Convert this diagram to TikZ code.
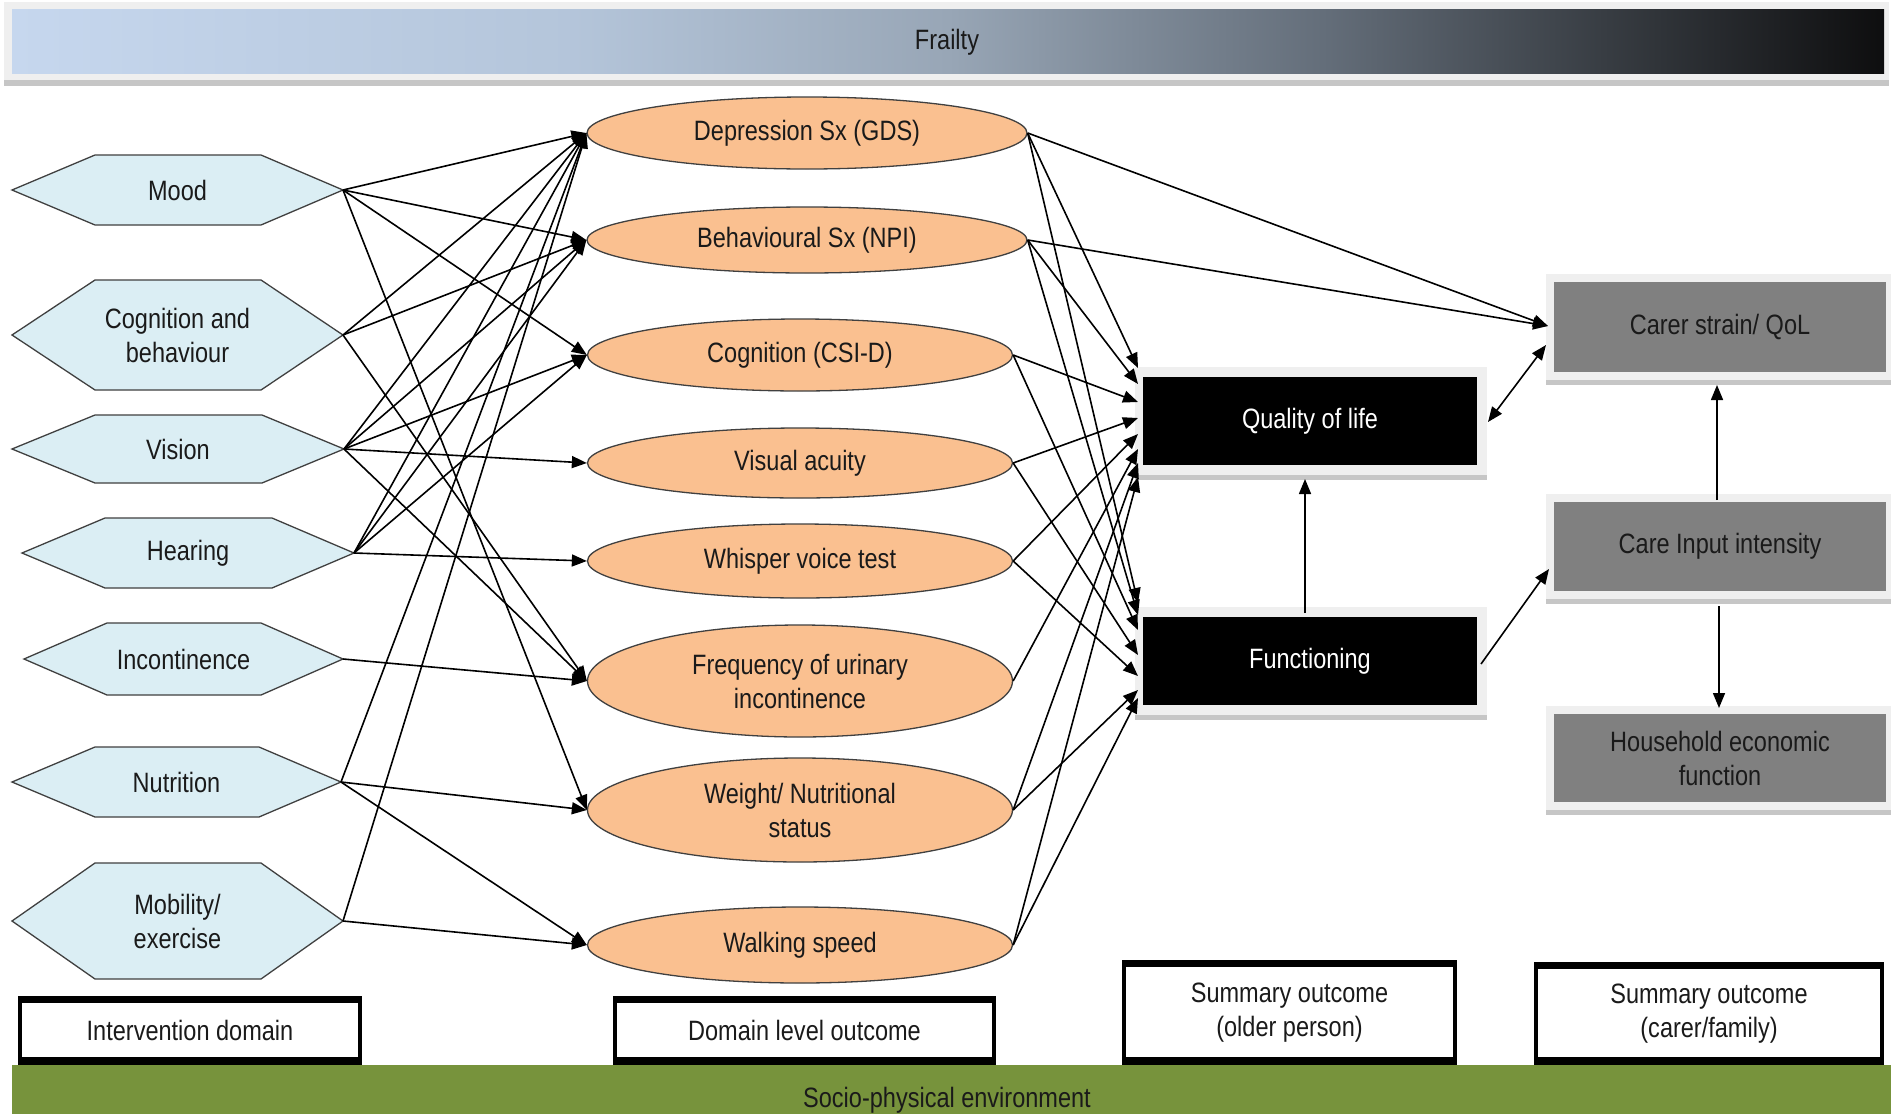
\documentclass[tikz,border=0pt]{standalone}
\usepackage{fontspec}
\setmainfont{Liberation Sans}[FakeStretch=0.84]
\usetikzlibrary{shapes.geometric,arrows.meta,calc}
\definecolor{hexfill}{HTML}{DBEEF4}
\definecolor{ellfill}{HTML}{FAC090}
\definecolor{boxgray}{HTML}{808080}
\definecolor{framelight}{HTML}{EFEFEF}
\definecolor{frameshadow}{HTML}{C6C6C6}
\definecolor{envgreen}{HTML}{77933C}
\definecolor{txt}{HTML}{1A1A1A}
\definecolor{fA}{HTML}{C6D7EE}
\definecolor{fB}{HTML}{B4C5DA}
\definecolor{fC}{HTML}{98A6B6}
\definecolor{fD}{HTML}{646E7A}
\definecolor{fE}{HTML}{383D43}
\definecolor{fF}{HTML}{0E0E0F}
\pgfdeclarehorizontalshading{frailshade}{100bp}{color(0bp)=(fA); color(25bp)=(fA); color(40bp)=(fB); color(50bp)=(fC); color(60bp)=(fD); color(67.5bp)=(fE); color(75bp)=(fF); color(100bp)=(fF)}
\newcommand{\hexnode}[6]{%
  \draw[hexshape] (#2,#4) -- ({#2+83},{#4-#5}) -- ({#3-82},{#4-#5}) -- (#3,#4) -- ({#3-82},{#4+#5}) -- ({#2+83},{#4+#5}) -- cycle;
  \node[lbl] (#1) at ({(#2+#3)/2},#4) {#6};
  \coordinate (#1-tip) at (#3,#4);
}
\newcommand{\legendbox}[6]{% name, x0, y0, x1, y1, text
  \fill[black] (#2,#3) rectangle (#4,#5);
  \fill[white] ({#2+4},{#3+7}) rectangle ({#4-4},{#5-8});
  \node[lbl] (#1) at ({(#2+#4)/2},{(#3+#5)/2}) {#6};
}
\begin{document}
\begin{tikzpicture}[x=1pt,y=-1pt,
  font=\fontsize{28}{34}\selectfont,
  every node/.style={text=txt},
  hexshape/.style={fill=hexfill, draw=black!75, line width=1.3pt},
  lbl/.style={align=center, inner sep=0pt},
  outc/.style={ellipse, fill=ellfill, draw=black!75, line width=1.3pt, inner sep=0pt, align=center},
  blackbox/.style={rectangle, fill=black, text=white, inner sep=0pt, align=center, minimum width=334pt, minimum height=88pt},
  graybox/.style={rectangle, fill=boxgray, text=txt, inner sep=0pt, align=center, minimum width=332pt, minimum height=89pt},
  conn/.style={draw=black, line width=1.6pt, -{Triangle[length=15pt,width=12pt]}},
  dconn/.style={draw=black, line width=1.6pt, {Triangle[length=15pt,width=12pt]}-{Triangle[length=15pt,width=12pt]}}
]
\useasboundingbox (0,0) rectangle (1891,1114);
\fill[white] (0,0) rectangle (1891,1114);

% Frailty bar
\fill[framelight] (4,2) rectangle (1889,80);
\fill[frameshadow] (4,80) rectangle (1889,86);
\shade[shading=frailshade] (12,9) rectangle (1884,73);
\node[lbl] (frailty) at (947,42) {Frailty};

% Intervention domains
\hexnode{mood}{12}{343}{190}{35}{Mood}
\hexnode{cog}{12}{343}{335}{55}{Cognition and\\behaviour}
\hexnode{vis}{12}{344}{449}{34}{Vision}
\hexnode{hear}{22}{354}{553}{35}{Hearing}
\hexnode{inc}{24}{343}{659}{36}{Incontinence}
\hexnode{nut}{12}{341}{782}{35}{Nutrition}
\hexnode{mob}{12}{343}{921}{58}{Mobility/\\exercise}

% Domain level outcomes
\node[outc, minimum width=440pt, minimum height=72pt] (d1) at (807,133) {Depression Sx (GDS)};
\node[outc, minimum width=440pt, minimum height=66pt] (d2) at (807,240) {Behavioural Sx (NPI)};
\node[outc, minimum width=425pt, minimum height=72pt] (d3) at (800,355) {Cognition (CSI-D)};
\node[outc, minimum width=425pt, minimum height=70pt] (d4) at (800,463) {Visual acuity};
\node[outc, minimum width=425pt, minimum height=74pt] (d5) at (800,561) {Whisper voice test};
\node[outc, minimum width=425pt, minimum height=112pt] (d6) at (800,681) {Frequency of urinary\\incontinence};
\node[outc, minimum width=425pt, minimum height=104pt] (d7) at (800,810) {Weight/ Nutritional\\status};
\node[outc, minimum width=425pt, minimum height=76pt] (d8) at (800,945) {Walking speed};

% Summary outcome boxes (older person)
\fill[framelight] (1135,367) rectangle (1487,475);
\fill[frameshadow] (1135,475) rectangle (1487,480);
\node[blackbox] (qol) at (1310,421) {Quality of life};
\fill[framelight] (1135,607) rectangle (1487,715);
\fill[frameshadow] (1135,715) rectangle (1487,720);
\node[blackbox] (func) at (1310,661) {Functioning};

% Summary outcome boxes (carer/family)
\fill[framelight] (1546,274) rectangle (1891,380);
\fill[frameshadow] (1546,380) rectangle (1891,385);
\node[graybox, minimum height=90pt] (carer) at (1720,327) {Carer strain/ QoL};
\fill[framelight] (1546,494) rectangle (1891,599);
\fill[frameshadow] (1546,599) rectangle (1891,604);
\node[graybox] (care) at (1720,546.5) {Care Input intensity};
\fill[framelight] (1546,706) rectangle (1891,810);
\fill[frameshadow] (1546,810) rectangle (1891,815);
\node[graybox, minimum height=88pt] (house) at (1720,758) {Household economic\\function};

% connectors: intervention -> domain outcome
\draw[conn] (mood-tip) -- (d1.west);
\draw[conn] (mood-tip) -- (d2.west);
\draw[conn] (mood-tip) -- (d3.west);
\draw[conn] (mood-tip) -- (d7.west);
\draw[conn] (cog-tip) -- (d1.west);
\draw[conn] (cog-tip) -- (d2.west);
\draw[conn] (cog-tip) -- (d6.west);
\draw[conn] (vis-tip) -- (d1.west);
\draw[conn] (vis-tip) -- (d2.west);
\draw[conn] (vis-tip) -- (d3.west);
\draw[conn] (vis-tip) -- (d4.west);
\draw[conn] (vis-tip) -- (d6.west);
\draw[conn] (hear-tip) -- (d1.west);
\draw[conn] (hear-tip) -- (d2.west);
\draw[conn] (hear-tip) -- (d3.west);
\draw[conn] (hear-tip) -- (d5.west);
\draw[conn] (inc-tip) -- (d6.west);
\draw[conn] (nut-tip) -- (d1.west);
\draw[conn] (nut-tip) -- (d7.west);
\draw[conn] (nut-tip) -- (d8.west);
\draw[conn] (mob-tip) -- (d1.west);
\draw[conn] (mob-tip) -- (d8.west);

% arrival points on summary boxes
\coordinate (q1) at (1138,368);
\coordinate (q2) at (1138,384);
\coordinate (q3) at (1138,402);
\coordinate (q4) at (1138,418);
\coordinate (q5) at (1138,434);
\coordinate (q6) at (1138,449);
\coordinate (q7) at (1138,463);
\coordinate (q8) at (1138,477);
\coordinate (f1) at (1138,603);
\coordinate (f2) at (1138,615);
\coordinate (f3) at (1138,630);
\coordinate (f4) at (1138,655);
\coordinate (f5) at (1138,676);
\coordinate (f7) at (1138,690);
\coordinate (f8) at (1138,698);

\draw[conn] (d1.east) -- (q1);
\draw[conn] (d2.east) -- (q2);
\draw[conn] (d3.east) -- (q3);
\draw[conn] (d4.east) -- (q4);
\draw[conn] (d5.east) -- (q5);
\draw[conn] (d6.east) -- (q6);
\draw[conn] (d7.east) -- (q7);
\draw[conn] (d8.east) -- (q8);
\draw[conn] (d1.east) -- (f1);
\draw[conn] (d2.east) -- (f2);
\draw[conn] (d3.east) -- (f3);
\draw[conn] (d4.east) -- (f4);
\draw[conn] (d5.east) -- (f5);
\draw[conn] (d7.east) -- (f7);
\draw[conn] (d8.east) -- (f8);

% right-hand connectors
\coordinate (carerIn) at (1548,326);
\coordinate (carerIn2) at (1546,345);
\coordinate (qolR) at (1488,422);
\coordinate (qolS) at (1305,479);
\coordinate (funcN) at (1305,613);
\coordinate (funcR) at (1481,664);
\coordinate (careL) at (1549,569);
\coordinate (careN) at (1717,500);
\coordinate (carerS) at (1717,385);
\coordinate (careS) at (1719,606);
\coordinate (houseN) at (1719,708);
\draw[conn] (d1.east) -- (carerIn);
\draw[conn] (d2.east) -- (carerIn);
\draw[dconn] (qolR) -- (carerIn2);
\draw[conn] (funcN) -- (qolS);
\draw[conn] (funcR) -- (careL);
\draw[conn] (careN) -- (carerS);
\draw[conn] (careS) -- (houseN);

% legend boxes
\legendbox{lintv}{18}{996}{362}{1065}{Intervention domain}
\legendbox{ldom}{613}{996}{996}{1065}{Domain level outcome}
\legendbox{lold}{1122}{960}{1457}{1065}{Summary outcome\\(older person)}
\legendbox{lcar}{1534}{962}{1884}{1065}{Summary outcome\\(carer/family)}

% environment bar
\fill[envgreen] (12,1065) rectangle (1891,1114);
\node[lbl] (env) at (947,1100) {Socio-physical environment};
\end{tikzpicture}
\end{document}
